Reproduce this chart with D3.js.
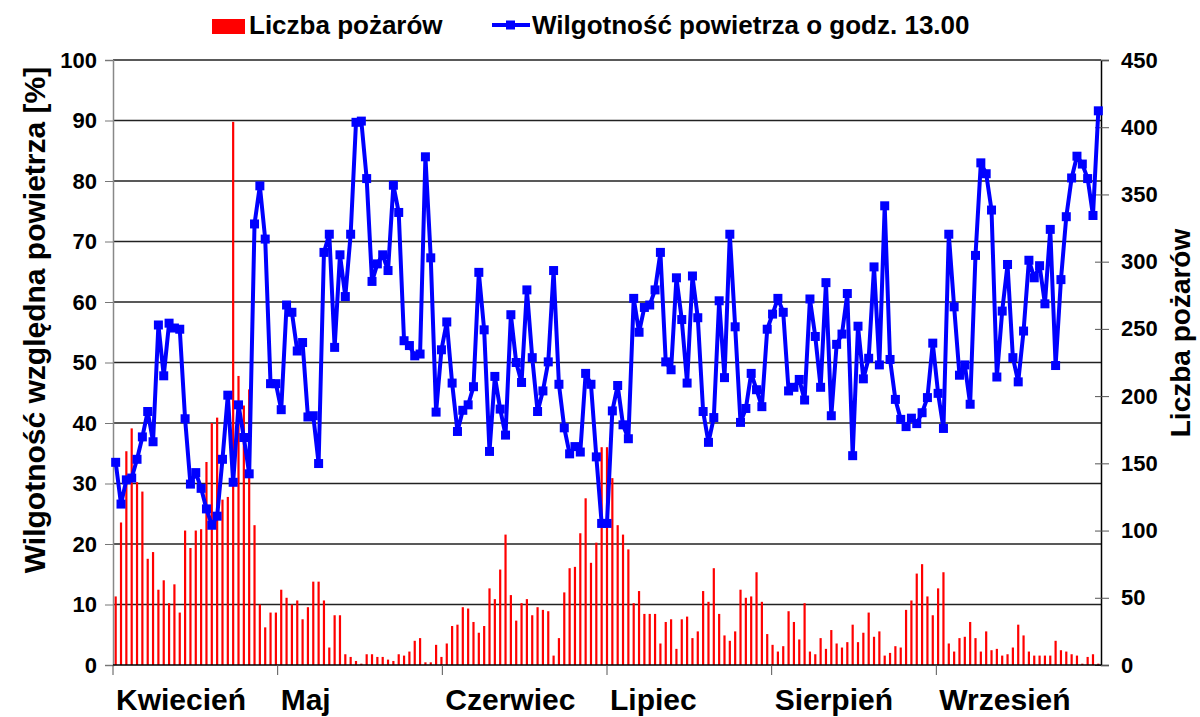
<!DOCTYPE html>
<html>
<head>
<meta charset="utf-8">
<script src="https://cdn.jsdelivr.net/npm/d3@7"></script>
<style>
body { margin: 0; background: #fff; }
text { font-family: "Liberation Sans", Arial, sans-serif; font-weight: bold; fill: #000; }
</style>
</head>
<body>
<div id="chart-area"></div>
<script>
var months = ["Kwiecień", "Maj", "Czerwiec", "Lipiec", "Sierpień", "Wrzesień"];
var humidityTicks = [0, 10, 20, 30, 40, 50, 60, 70, 80, 90, 100];
var fireTicks = [0, 50, 100, 150, 200, 250, 300, 350, 400, 450];

// Wilgotność powietrza o godz. 13.00 [%]
var humidity = [
    33.5, 26.6, 30.6, 30.9, 34.0, 37.7, 41.9, 36.9, 56.2, 47.8,
    56.5, 55.7, 55.5, 40.7, 29.9, 31.8, 29.2, 25.8, 23.1, 24.6,
    34.0, 44.6, 30.2, 43.0, 37.6, 31.6, 72.9, 79.2, 70.4, 46.5,
    46.5, 42.2, 59.5, 58.3, 51.9, 53.3, 41.0, 41.2, 33.3, 68.2,
    71.2, 52.5, 67.8, 60.9, 71.2, 89.7, 89.9, 80.4, 63.4, 66.3,
    67.8, 65.2, 79.3, 74.8, 53.6, 52.8, 51.1, 51.4, 84.0, 67.3,
    41.8, 52.1, 56.7, 46.6, 38.6, 42.1, 43.0, 46.0, 64.9, 55.4,
    35.3, 47.7, 42.3, 38.0, 57.9, 50.0, 46.7, 62.0, 50.8, 41.9,
    45.3, 50.1, 65.2, 46.4, 39.2, 34.9, 36.1, 35.2, 48.2, 46.4,
    34.4, 23.4, 23.4, 42.0, 46.2, 39.7, 37.4, 60.6, 55.0, 59.1,
    59.5, 62.0, 68.2, 50.1, 48.8, 64.0, 57.1, 46.6, 64.3, 57.4,
    41.9, 36.8, 40.9, 60.2, 47.5, 71.2, 55.9, 40.1, 42.4, 48.2,
    45.5, 42.7, 55.5, 58.0, 60.6, 58.3, 45.3, 45.9, 47.2, 43.8,
    60.5, 54.3, 45.9, 63.2, 41.2, 53.0, 54.7, 61.4, 34.6, 56.0,
    47.3, 50.7, 65.8, 49.6, 75.9, 50.5, 43.9, 40.6, 39.4, 40.8,
    39.9, 41.7, 44.2, 53.2, 44.9, 39.1, 71.2, 59.2, 47.9, 49.6,
    43.1, 67.7, 83.0, 81.2, 75.2, 47.6, 58.5, 66.2, 50.8, 46.8,
    55.2, 66.9, 64.0, 66.0, 59.7, 72.0, 49.5, 63.7, 74.1, 80.5,
    84.1, 82.8, 80.4, 74.3, 91.6
];

// Liczba pożarów
var fires = [
    51, 106, 159, 176, 136, 129, 79, 84, 56, 63,
    46, 60, 39, 100, 87, 100, 101, 151, 180, 184,
    123, 125, 404, 215, 193, 205, 104, 45, 28, 39,
    39, 56, 50, 45, 48, 34, 43, 62, 62, 48,
    13, 37, 37, 8, 6, 3, 1, 8, 8, 6,
    6, 4, 3, 8, 7, 10, 18, 20, 2, 2,
    15, 6, 16, 29, 30, 43, 42, 32, 24, 29,
    57, 49, 71, 97, 52, 33, 46, 49, 37, 43,
    41, 40, 7, 20, 54, 72, 73, 98, 124, 76,
    91, 162, 162, 139, 104, 97, 86, 46, 55, 38,
    38, 38, 16, 32, 34, 12, 34, 36, 20, 25,
    55, 47, 72, 38, 22, 18, 25, 56, 50, 51,
    69, 47, 23, 15, 10, 14, 40, 32, 19, 46,
    10, 8, 20, 12, 26, 16, 13, 17, 30, 17,
    24, 39, 21, 25, 7, 9, 14, 13, 41, 48,
    68, 75, 51, 37, 57, 69, 16, 10, 20, 21,
    32, 20, 10, 25, 11, 12, 7, 8, 13, 30,
    22, 10, 7, 7, 7, 7, 18, 11, 10, 8,
    7, 1, 6, 8, 1
];

var canvasWidth = 1200;
var canvasHeight = 717;
var margin = { left: 113, right: 99, top: 60, bottom: 52 };
var width = canvasWidth - margin.left - margin.right;
var height = canvasHeight - margin.top - margin.bottom;

var svg = d3.select("#chart-area")
    .append("svg")
        .attr("width", canvasWidth)
        .attr("height", canvasHeight);
var g = svg.append("g")
        .attr("transform", `translate(${margin.left},${margin.top})`);

var x = d3.scaleBand()
    .domain(d3.range(humidity.length))
    .range([0, width]);

var xMonth = d3.scaleBand()
    .domain(months)
    .range([0, width]);

var yLeft = d3.scaleLinear()
    .domain([0, 100])
    .range([height, 0]);

var yRight = d3.scaleLinear()
    .domain([0, 450])
    .range([height, 0]);

// gridlines
g.append("g")
    .selectAll("line")
    .data(humidityTicks.filter(d => d > 0))
    .enter().append("line")
        .attr("x1", 0)
        .attr("x2", width)
        .attr("y1", d => yLeft(d))
        .attr("y2", d => yLeft(d))
        .attr("stroke", "#222")
        .attr("stroke-width", 1.3);

// bars
g.append("g")
    .selectAll("rect")
    .data(fires)
    .enter().append("rect")
        .attr("x", (d, i) => x(i) + x.bandwidth() / 2 - 1.1)
        .attr("y", d => yRight(d))
        .attr("width", 2.2)
        .attr("height", d => height - yRight(d))
        .attr("fill", "#ff0000");

// left axis
var yLeftAxis = g.append("g")
    .call(d3.axisLeft(yLeft).tickValues(humidityTicks).tickSize(8).tickPadding(8));
yLeftAxis.select(".domain").attr("stroke", "#888").attr("stroke-width", 1.5);
yLeftAxis.selectAll(".tick line").attr("stroke", "#777");
yLeftAxis.selectAll(".tick text")
    .attr("font-size", "22px")
    .attr("font-family", null);

// right axis
var yRightAxis = g.append("g")
    .attr("transform", `translate(${width},0)`)
    .call(d3.axisRight(yRight).tickValues(fireTicks).tickSize(8).tickPadding(12));
yRightAxis.select(".domain").attr("stroke", "#000").attr("stroke-width", 1.5);
yRightAxis.selectAll(".tick line").attr("x1", -6).attr("stroke", "#555");
yRightAxis.selectAll(".tick text")
    .attr("font-size", "22px")
    .attr("font-family", null);

// bottom axis (months)
var xAxis = g.append("g")
    .attr("transform", `translate(0,${height})`);
xAxis.append("line")
    .attr("x1", 0).attr("x2", width)
    .attr("stroke", "#000").attr("stroke-width", 1.5);
xAxis.selectAll(".mtick")
    .data(months)
    .enter().append("line")
        .attr("class", "mtick")
        .attr("x1", d => xMonth(d))
        .attr("x2", d => xMonth(d))
        .attr("y1", 0)
        .attr("y2", 10)
        .attr("stroke", "#555");
xAxis.selectAll(".mlabel")
    .data(months)
    .enter().append("text")
        .attr("class", "mlabel")
        .attr("x", d => xMonth(d) + 3)
        .attr("y", 45)
        .attr("font-size", "30px")
        .text(d => d);

// humidity line
var line = d3.line()
    .x((d, i) => x(i) + x.bandwidth() / 2)
    .y(d => yLeft(d));

g.append("path")
    .datum(humidity)
    .attr("fill", "none")
    .attr("stroke", "#0000ff")
    .attr("stroke-width", 4)
    .attr("stroke-linejoin", "round")
    .attr("d", line);

g.append("g")
    .selectAll("rect")
    .data(humidity)
    .enter().append("rect")
        .attr("x", (d, i) => x(i) + x.bandwidth() / 2 - 4.5)
        .attr("y", d => yLeft(d) - 4.5)
        .attr("width", 9)
        .attr("height", 9)
        .attr("fill", "#0000ff");

// Y labels
svg.append("text")
    .attr("x", -320)
    .attr("y", 45)
    .attr("font-size", "30px")
    .attr("text-anchor", "middle")
    .attr("transform", "rotate(-90)")
    .text("Wilgotność względna powietrza [%]");

svg.append("text")
    .attr("x", -333)
    .attr("y", 1190)
    .attr("font-size", "28px")
    .attr("text-anchor", "middle")
    .attr("transform", "rotate(-90)")
    .text("Liczba pożarów");

// legend
var legend = svg.append("g");
legend.append("rect")
    .attr("x", 212).attr("y", 19)
    .attr("width", 33).attr("height", 15)
    .attr("fill", "#ff0000");
legend.append("text")
    .attr("x", 249).attr("y", 34)
    .attr("font-size", "26px")
    .text("Liczba pożarów");
legend.append("line")
    .attr("x1", 492).attr("x2", 530)
    .attr("y1", 25).attr("y2", 25)
    .attr("stroke", "#0000ff").attr("stroke-width", 4);
legend.append("rect")
    .attr("x", 506).attr("y", 20.5)
    .attr("width", 9).attr("height", 9)
    .attr("fill", "#0000ff");
legend.append("text")
    .attr("x", 532).attr("y", 34)
    .attr("font-size", "26px")
    .text("Wilgotność powietrza o godz. 13.00");
</script>
</body>
</html>
